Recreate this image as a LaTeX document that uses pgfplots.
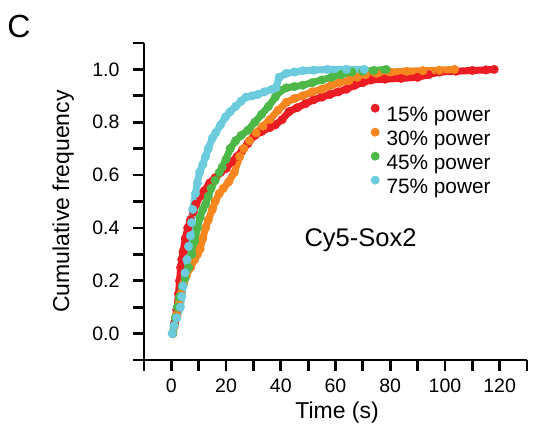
\documentclass[border=0pt]{standalone}
\usepackage{fontspec}
\setmainfont{Liberation Sans}
\usepackage{pgfplots}
\pgfplotsset{compat=1.18}
\definecolor{cred}{HTML}{EC1C24}
\definecolor{corange}{HTML}{F6861F}
\definecolor{cgreen}{HTML}{4DB848}
\definecolor{ccyan}{HTML}{6CCBDC}

\begin{document}
\begin{tikzpicture}
\useasboundingbox (0,0) rectangle (539pt,433pt);
\node[font=\fontsize{32}{32}\selectfont, anchor=center] at (19pt,406.5pt) {C};
\begin{axis}[
    at={(144pt,73pt)}, anchor=south west,
    scale only axis, width=383pt, height=317pt,
    xmin=-10, xmax=130, ymin=-0.1, ymax=1.1,
    axis lines=left,
    axis line style={line width=2.8pt, -},
    xtick={0,20,...,120},
    minor xtick={-10,10,30,50,70,90,110,130},
    ytick={0,0.2,0.4,0.6,0.8,1.0},
    minor ytick={-0.1,0.1,0.3,0.5,0.7,0.9,1.1},
    tick align=outside,
    major tick length=11pt, minor tick length=11pt,
    every tick/.style={line width=2.8pt, black},
    /pgf/number format/assume math mode=true,
    yticklabel style={/pgf/number format/.cd, fixed, fixed zerofill, precision=1},
    yticklabel shift=10pt,
    xticklabel shift=4pt,
    ticklabel style={font=\fontsize{19.5}{19.5}\selectfont},
    xlabel={Time (s)},
    ylabel={Cumulative frequency},
    label style={font=\fontsize{23}{23}\selectfont},
    xlabel style={at={(axis description cs:0.504,-0.167)}, anchor=center},
    ylabel style={at={(axis description cs:-0.211,0.5)}, anchor=center},
    every axis plot/.append style={line width=7pt, mark=*, mark size=4.3pt,
        mark options={solid, line width=0.4pt}, line join=round},
    legend image code/.code={\fill[#1, draw=none] (0pt,6.5pt) circle (4.5pt);},
    legend style={draw=none, fill=none, inner sep=0pt, row sep=5pt,
        at={(axis description cs:0.5914,0.809)}, anchor=north west,
        font=\fontsize{20.8}{20.8}\selectfont,
        nodes={inner sep=0pt},
        /tikz/every odd column/.append style={column sep=6.8pt}},
    legend cell align=left,
]
% 15% power
\addplot[color=cred] coordinates {
(0.5,0.00) (1.2,0.04) (2.0,0.09) (2.6,0.15) (3.0,0.20) (3.4,0.25) (3.8,0.28)
(4.3,0.31) (5.1,0.36) (6.0,0.40) (7.0,0.43) (8.0,0.46) (9.0,0.49) (10.5,0.52)
(12.0,0.54) (14.0,0.57) (16.0,0.59) (18.0,0.61) (20.0,0.625) (22.0,0.65)
(24.0,0.67) (26.0,0.695) (28.0,0.72) (30.5,0.75) (33.0,0.765) (36.0,0.78)
(38.0,0.79) (40.5,0.81) (43.0,0.84) (46.0,0.855) (49.0,0.87) (52.0,0.885)
(55.0,0.895) (58.0,0.905) (61.0,0.915) (64.0,0.925) (67.0,0.94) (70.0,0.95)
(73.0,0.96) (78.0,0.963) (84.0,0.966) (90.0,0.97) (94.0,0.98) (98.0,0.99)
(104.0,0.993) (110.0,0.996) (115.0,0.998) (118.0,1.00)
};
\addlegendentry{15\% power}
% 30% power
\addplot[color=corange] coordinates {
(0.5,0.00) (1.2,0.03) (2.0,0.07) (2.8,0.11) (3.5,0.15) (4.5,0.19) (5.5,0.22)
(7.0,0.25) (8.5,0.28) (9.5,0.30) (10.5,0.32) (11.5,0.36) (12.5,0.40)
(13.5,0.43) (15.0,0.47) (16.0,0.50) (17.5,0.53) (19.0,0.55) (21.0,0.575)
(23.0,0.61) (25.0,0.67) (26.5,0.70) (28.5,0.73) (31.0,0.76) (33.5,0.785)
(36.0,0.81) (39.0,0.845) (42.0,0.875) (45.0,0.89) (48.0,0.90) (51.5,0.915)
(55.0,0.925) (58.5,0.94) (61.5,0.95) (65.0,0.958) (68.0,0.97) (71.0,0.98)
(75.0,0.985) (80.0,0.99) (86.0,0.993) (92.0,0.995) (98.0,0.997) (103.5,1.00)
};
\addlegendentry{30\% power}
% 45% power
\addplot[color=cgreen] coordinates {
(0.5,0.00) (1.0,0.03) (1.5,0.06) (2.2,0.10) (3.0,0.14) (4.0,0.18) (5.0,0.21)
(6.3,0.25) (7.5,0.30) (8.5,0.35) (9.5,0.40) (10.5,0.44) (11.5,0.47)
(12.5,0.49) (13.5,0.52) (14.5,0.55) (16.0,0.58) (17.5,0.61) (18.6,0.63)
(20.0,0.66) (21.5,0.70) (23.5,0.73) (25.5,0.75) (28.0,0.77) (30.5,0.80)
(33.0,0.83) (35.5,0.86) (38.0,0.895) (40.0,0.92) (42.0,0.93) (45.0,0.935)
(48.0,0.94) (51.5,0.95) (55.0,0.96) (58.5,0.97) (62.0,0.98) (66.0,0.99)
(70.0,0.993) (74.0,0.996) (78.5,1.00)
};
\addlegendentry{45\% power}
% 75% power
\addplot[color=ccyan] coordinates {
(0.3,0.00) (1.0,0.03) (2.0,0.06) (3.3,0.10) (3.8,0.14) (4.3,0.18) (5.0,0.23)
(5.7,0.28) (6.3,0.33) (7.0,0.37) (7.4,0.42) (7.8,0.47) (8.8,0.53) (9.5,0.57)
(10.3,0.61) (11.5,0.64) (12.5,0.67) (13.5,0.70) (15.0,0.74) (16.2,0.76)
(18.0,0.79) (19.8,0.82) (21.5,0.84) (23.5,0.86) (25.5,0.88) (27.3,0.895)
(29.5,0.90) (31.5,0.905) (34.0,0.915) (36.8,0.925) (38.2,0.93) (39.4,0.97)
(42.0,0.985) (45.0,0.99) (48.0,0.995) (52.0,0.997) (57.0,1.00) (64.0,1.00)
(70.5,1.00)
};
\addlegendentry{75\% power}
\node[anchor=base west, font=\fontsize{25.5}{25.5}\selectfont] at (axis cs:47.4,0.328) {Cy5-Sox2};
\end{axis}
\end{tikzpicture}
\end{document}
